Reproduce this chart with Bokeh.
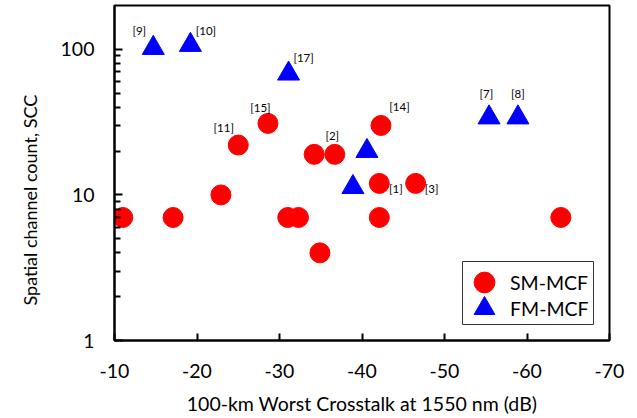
from bokeh.plotting import figure
from bokeh.models import (ColumnDataSource, Range1d, FixedTicker, PrintfTickFormatter,
                          Legend, LegendItem, BoxAnnotation, Title)
from bokeh.embed import file_html
from bokeh.resources import INLINE
from bokeh.core.properties import value

# ---- data ----
sm_x = [-11.0, -17.1, -22.9, -25.0, -28.6, -31.0, -32.3, -34.2, -36.7, -34.9, -42.1, -42.3, -46.5, -42.1, -64.1]
sm_y = [7, 7, 10, 22, 31, 7, 7, 19, 19, 4, 12, 30, 12, 7, 7]
sm_ref = ["", "", "", "[11]", "[15]", "", "", "", "[2]", "", "[1]", "[14]", "[3]", "", ""]

fm_x = [-14.7, -19.2, -31.1, -40.6, -38.9, -55.4, -58.9]
fm_y = [102, 107, 68, 20, 11.3, 34, 34]
fm_ref = ["[9]", "[10]", "[17]", "", "", "[7]", "[8]"]

x_ticks = [-10, -20, -30, -40, -50, -60, -70]
y_ticks = [1, 10, 100]

# label offsets in screen pixels (style)
label_offsets = {
    "[11]": (-14.5, -18), "[15]": (-7.5, -15.5), "[2]": (-2.5, -19),
    "[1]": (16.5, 5), "[14]": (18.5, -19), "[3]": (16, 5),
    "[9]": (-14, -17.5), "[10]": (15.5, -14.5), "[17]": (15, -16),
    "[7]": (-2.7, -24.3), "[8]": (0, -24.3),
}

FONT = "Lato"
FS = "19.5px"

p = figure(width=637, height=418, y_axis_type="log",
           x_range=Range1d(-10, -70), y_range=Range1d(1, 200),
           output_backend="svg", toolbar_location=None,
           min_border_left=113, min_border_right=28, min_border_top=5, min_border_bottom=78)
p.background_fill_color = "white"
p.border_fill_color = "white"
p.outline_line_color = "black"
p.outline_line_width = 2
p.xgrid.visible = False
p.ygrid.visible = False

# axes
p.xaxis.ticker = FixedTicker(ticks=x_ticks, minor_ticks=[])
p.yaxis.ticker = FixedTicker(ticks=y_ticks,
                             minor_ticks=[m * d for d in (1, 10) for m in range(2, 10)])
p.xaxis.formatter = PrintfTickFormatter(format="%d")
p.yaxis.formatter = PrintfTickFormatter(format="%d")
for ax in (p.xaxis[0], p.yaxis[0]):
    ax.axis_line_color = "black"
    ax.axis_line_width = 2
    ax.major_tick_line_color = "black"
    ax.major_tick_line_width = 2
    ax.minor_tick_line_color = "black"
    ax.minor_tick_line_width = 2
    ax.major_tick_out = 0
    ax.minor_tick_out = 0
    ax.major_label_text_font = FONT
    ax.major_label_text_font_size = FS
    ax.major_label_text_color = "black"
    ax.axis_label_text_font = FONT
    ax.axis_label_text_font_size = FS
    ax.axis_label_text_font_style = "normal"
    ax.axis_label_text_color = "black"
p.xaxis.major_tick_in = 7
p.yaxis.major_tick_in = 8
p.yaxis.minor_tick_in = 6
p.xaxis.major_label_standoff = 23
p.yaxis.major_label_standoff = 20
p.xaxis.axis_label = "100-km Worst Crosstalk at 1550 nm (dB)"
p.xaxis.axis_label_standoff = 11

ytitle = Title(text="Spatial channel count, SCC", align="left", offset=35,
               text_font=FONT, text_font_size="18px", text_font_style="normal",
               text_color="black", standoff=33)
p.add_layout(ytitle, "left")

# markers
src_sm = ColumnDataSource(dict(x=sm_x, y=sm_y))
src_fm = ColumnDataSource(dict(x=fm_x, y=fm_y))
r_sm = p.scatter("x", "y", source=src_sm, marker="circle", size=20,
                 fill_color="#FF0000", line_color="#FF0000")
r_fm = p.scatter("x", "y", source=src_fm, marker="triangle", size=22,
                 fill_color="#0000FF", line_color="#0000FF")

# reference labels
lx, ly, lt, ox, oy = [], [], [], [], []
for xs, ys, refs in ((sm_x, sm_y, sm_ref), (fm_x, fm_y, fm_ref)):
    for xv, yv, r in zip(xs, ys, refs):
        if r:
            lx.append(xv); ly.append(yv); lt.append(r)
            ox.append(label_offsets[r][0]); oy.append(label_offsets[r][1])
src_lab = ColumnDataSource(dict(x=lx, y=ly, text=lt, ox=ox, oy=oy))
p.text("x", "y", text="text", x_offset="ox", y_offset="oy", source=src_lab,
       text_font=value(FONT), text_font_size="11.5px", text_color="#000000",
       text_align="center", text_baseline="middle")

# legend: one single-item legend per row, framed by a box
def make_legend(label, rend, loc):
    return Legend(items=[LegendItem(label=label, renderers=[rend])],
                  location=loc, glyph_width=52, glyph_height=52, spacing=0,
                  padding=0, margin=0, label_standoff=0,
                  border_line_alpha=0, background_fill_alpha=0,
                  label_text_font=FONT, label_text_font_size=FS, label_text_color="black")

p.add_layout(make_legend("SM-MCF", r_sm, (344, 32)))
p.add_layout(make_legend("FM-MCF", r_fm, (344, 6)))
box = BoxAnnotation(left=462, right=593, top=261, bottom=324,
                    left_units="canvas", right_units="canvas",
                    top_units="canvas", bottom_units="canvas",
                    fill_alpha=0, line_color="#333333", line_width=1, line_alpha=1)
p.add_layout(box)

open("out.html", "w").write(file_html(p, INLINE))
